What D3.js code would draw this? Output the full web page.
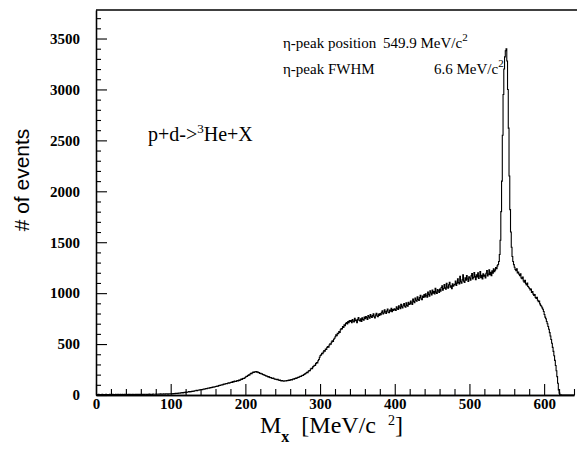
<!DOCTYPE html>
<html><head><meta charset="utf-8">
<script src="https://cdn.jsdelivr.net/npm/d3@7"></script>
<style>body{margin:0;background:#fff}</style>
</head><body>
<svg id="chart" width="577" height="455"></svg>
<script>
// Missing-mass histogram, 1 MeV/c^2 bins starting at 0
const binLowEdge = 0;
const binWidth = 1;
const counts = [
3,5,4,6,3,4,5,3,6,4,5,3,4,6,5,3,4,5,6,4,
5,4,6,3,5,4,7,5,4,6,5,3,6,4,5,7,4,5,6,4,
6,5,4,7,5,6,4,5,7,6,5,4,6,7,5,6,8,5,6,7,
6,8,5,7,6,8,7,5,8,6,7,9,6,8,7,6,9,8,7,8,
9,7,8,10,8,9,11,8,10,9,11,10,9,12,10,11,9,12,11,13,
12,14,11,13,15,13,16,14,17,15,18,20,17,21,19,23,21,24,26,23,
28,26,30,29,33,31,35,33,37,36,40,38,42,41,45,43,47,46,50,49,
52,54,53,57,59,58,61,63,62,66,68,67,70,73,72,75,78,77,80,81,
83,85,89,87,92,95,93,98,101,99,104,107,105,110,113,111,116,119,117,121,
122,127,124,131,129,136,133,132,139,142,138,146,144,150,156,153,161,165,163,170,
176,183,181,191,198,195,206,212,209,219,225,221,229,226,231,224,227,218,220,212,
214,206,209,201,197,199,191,186,189,182,178,180,173,169,171,165,163,166,159,156,
157,152,150,153,147,144,146,141,139,143,138,136,140,139,137,142,141,144,146,143,
149,152,148,155,158,156,162,166,163,170,174,172,179,184,181,189,194,192,201,205,
210,216,224,220,233,241,238,255,262,259,276,283,292,289,308,318,315,337,349,370,
388,394,409,405,421,437,431,452,446,468,475,470,491,503,498,519,531,526,548,557,
572,590,583,607,601,624,615,640,652,648,671,664,690,681,702,712,698,721,709,730,
722,731,709,740,726,718,752,729,735,711,744,760,733,726,748,722,757,741,735,766,
748,771,759,742,780,766,754,790,772,761,779,798,768,757,785,803,776,769,795,781,
800,788,812,827,796,805,836,818,801,824,845,812,809,833,822,851,819,838,829,846,
841,830,866,852,839,877,861,848,890,867,855,882,899,871,862,905,880,873,910,889,
895,922,904,889,941,918,907,952,930,921,965,939,928,958,979,944,936,971,958,987,
962,994,975,960,1012,988,971,1024,1001,983,1030,999,1015,992,1047,1010,998,1035,1022,1007,
1040,1018,1055,1073,1029,1046,1085,1052,1038,1096,1061,1049,1082,1107,1058,1071,1044,1093,1069,1080,
1088,1120,1075,1098,1142,1103,1090,1165,1112,1097,1130,1181,1118,1104,1150,1126,1173,1139,1115,1160,
1148,1126,1170,1192,1139,1155,1203,1162,1131,1180,1158,1199,1145,1168,1211,1152,1176,1140,1189,1166,
1178,1150,1196,1221,1169,1187,1230,1181,1205,1172,1219,1197,1238,1210,1226,1252,1240,1268,1282,1310,
1380,1520,1800,2100,2550,2950,3200,3320,3380,3400,3280,3000,2620,2150,1820,1600,1450,1360,1310,1280,
1255,1232,1221,1240,1198,1206,1185,1172,1190,1150,1141,1158,1120,1108,1125,1092,1080,1098,1066,1058,
1045,1031,1040,1008,1015,990,978,986,958,949,960,930,915,922,895,880,872,855,842,820,
790,765,748,722,700,672,645,612,580,545,508,468,428,385,340,290,238,180,115,50,
18,3,2,0,0,0,0,0,0,0,0,0,0,0,0,0,0,0,0,0
];
const xDomain = [0, 640];
const yDomain = [0, 3780];
const xMajorTicks = [0,100,200,300,400,500,600];
const xMinorStep = 20;
const yMajorTicks = [0,500,1000,1500,2000,2500,3000,3500];
const yMinorStep = 100;
const annotLine1 = ["η-peak position", "549.9 MeV/c"];
const annotLine2 = ["η-peak FWHM", "6.6 MeV/c"];
const reactionLabel = ["p+d->", "3", "He+X"];
const yTitle = "# of events";

const svg = d3.select("#chart");
const m = {left: 96, right: 574, top: 10, bottom: 395};
const x = d3.scaleLinear().domain(xDomain).range([m.left, m.right]);
const y = d3.scaleLinear().domain(yDomain).range([m.bottom, m.top]);

const serif = "'Liberation Serif','Times New Roman',serif";

// histogram path
const pts = counts.map((c, i) => [binLowEdge + i * binWidth, c]);
pts.push([binLowEdge + counts.length * binWidth, counts[counts.length - 1]]);
const line = d3.line().x(d => x(d[0])).y(d => y(d[1])).curve(d3.curveStepAfter);
svg.append("path").datum(pts).attr("d", line)
  .attr("fill", "none").attr("stroke", "#000").attr("stroke-width", 1.1);

// minor ticks
const xMinor = d3.range(xDomain[0], xDomain[1] + 1, xMinorStep).filter(v => !xMajorTicks.includes(v));
const yMinor = d3.range(yDomain[0], yDomain[1], yMinorStep).filter(v => !yMajorTicks.includes(v));

function styleAxis(g) {
  g.selectAll("path.domain").attr("stroke", "#000").attr("stroke-width", 1.3);
  g.selectAll(".tick line").attr("stroke", "#000").attr("stroke-width", 1.1);
  g.selectAll("text").attr("font-family", serif).attr("font-size", 15)
    .attr("font-weight", "bold").attr("fill", "#000");
}

svg.append("g").attr("transform", `translate(0,${m.bottom})`)
  .call(d3.axisBottom(x).tickValues(xMinor).tickSizeInner(-6).tickSizeOuter(0).tickFormat(""))
  .call(styleAxis);
svg.append("g").attr("transform", `translate(0,${m.bottom})`)
  .call(d3.axisBottom(x).tickValues(xMajorTicks).tickSizeInner(-11).tickSizeOuter(0).tickPadding(3).tickFormat(d3.format("d")))
  .call(styleAxis);
svg.append("g").attr("transform", `translate(${m.left},0)`)
  .call(d3.axisLeft(y).tickValues(yMinor).tickSizeInner(-5).tickSizeOuter(0).tickFormat(""))
  .call(styleAxis);
svg.append("g").attr("transform", `translate(${m.left},0)`)
  .call(d3.axisLeft(y).tickValues(yMajorTicks).tickSizeInner(-11).tickSizeOuter(0).tickPadding(16).tickFormat(d3.format("d")))
  .call(styleAxis);

// top frame line
svg.append("line").attr("x1", m.left).attr("x2", 577).attr("y1", m.top).attr("y2", m.top)
  .attr("stroke", "#000").attr("stroke-width", 1.3);

// x title
const xt = svg.append("text").attr("x", 260).attr("y", 433)
  .attr("font-family", serif).attr("font-size", 24).attr("fill", "#000");
xt.append("tspan").text("M");
xt.append("tspan").attr("font-size", 16).attr("dy", 9).attr("font-weight", "bold").text("x");
xt.append("tspan").attr("dy", -9).text("\u00a0 [MeV/c\u00a0 ");
xt.append("tspan").attr("font-size", 14).attr("dy", -8).text("2");
xt.append("tspan").attr("dy", 8).text("]");

// y title
svg.append("text").attr("transform", "translate(29,180) rotate(-90)")
  .attr("text-anchor", "middle").attr("font-family", "'Liberation Sans',Arial,sans-serif")
  .attr("font-size", 21).attr("fill", "#000").text(yTitle);

// annotations
function annot(yy, parts, xVal) {
  const t = svg.append("text").attr("y", yy).attr("font-family", serif).attr("font-size", 15).attr("fill", "#000");
  t.append("tspan").attr("x", 283).text(parts[0]);
  t.append("tspan").attr("x", xVal).text(parts[1]);
  t.append("tspan").attr("font-size", 11).attr("dy", -7).text("2");
}
annot(48, annotLine1, 383);
annot(74, annotLine2, 434);

const rl = svg.append("text").attr("x", 148).attr("y", 141)
  .attr("font-family", serif).attr("font-size", 20).attr("fill", "#000");
rl.append("tspan").text(reactionLabel[0]);
rl.append("tspan").attr("font-size", 13).attr("dy", -8).text(reactionLabel[1]);
rl.append("tspan").attr("dy", 8).text(reactionLabel[2]);
</script>
</body></html>
